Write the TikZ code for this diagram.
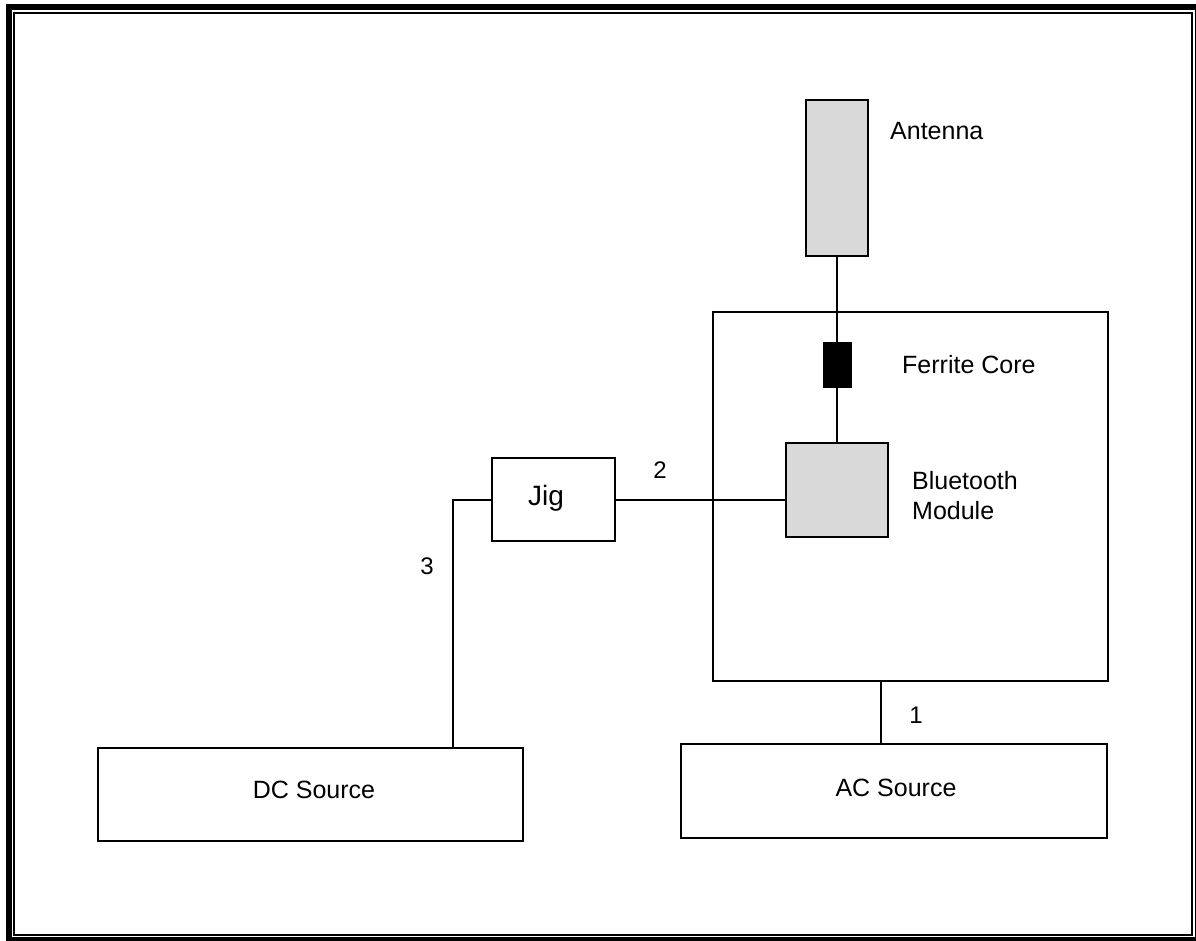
\documentclass[tikz,border=0pt]{standalone}
\usepackage{fontspec}
\setmainfont{Liberation Sans}
\definecolor{boxgray}{HTML}{D9D9D9}
\begin{document}
\begin{tikzpicture}[x=1pt,y=-1pt,
  box/.style={draw=black,line width=2pt,rectangle,inner sep=0pt},
  wire/.style={draw=black,line width=2pt},
  lbl/.style={inner sep=0pt,font=\fontsize{25}{28}\selectfont},
  num/.style={inner sep=0pt,font=\fontsize{24}{28}\selectfont}]
\useasboundingbox (0,0) rectangle (1196,940);
\begin{scope}
  \clip (0,0) rectangle (1196,940);
  \draw[line width=6pt] (9,7) rectangle (1198,940);
  \draw[line width=2pt] (14,13) rectangle (1192,935);
\end{scope}
% device box
\node[box,minimum width=395pt,minimum height=369pt] (dev) at (910.5,496.5) {};
% antenna
\node[box,fill=boxgray,minimum width=62pt,minimum height=156pt] (ant) at (837,178) {};
% ferrite core
\node[box,fill=black,minimum width=27pt,minimum height=44pt] (fer) at (837,365) {};
% bluetooth module
\node[box,fill=boxgray,minimum width=102pt,minimum height=94pt] (bt) at (837,490) {};
% jig
\node[box,minimum width=123pt,minimum height=83pt] (jig) at (553.5,499.5) {};
% sources
\node[box,minimum width=425pt,minimum height=93pt] (dc) at (310.5,794.5) {};
\node[box,minimum width=426pt,minimum height=94pt] (ac) at (894,791) {};
% helper coordinates
\coordinate (dcin) at (453,748);
\coordinate (acx) at (881,0);
% connectors
\draw[wire] (ant.south) -- (fer.north);
\draw[wire] (fer.south) -- (bt.north);
\draw[wire] (jig.east) -- (jig.east -| bt.west);
\draw[wire] (jig.west) -| (dcin);
\draw[wire] (dev.south -| acx) -- (ac.north -| acx);
% labels
\node[lbl,anchor=base west] (tant) at (890,139) {Antenna};
\node[lbl,anchor=base west] (tfer) at (902,373) {Ferrite Core};
\node[lbl,anchor=base west] (tbt1) at (912,489) {Bluetooth};
\node[lbl,anchor=base west] (tbt2) at (912,519) {Module};
\node[inner sep=0pt,font=\fontsize{28}{32}\selectfont,anchor=base] (tjig) at (546,505) {Jig};
\node[lbl,anchor=base] (tdc) at (314,798) {DC Source};
\node[lbl,anchor=base] (tac) at (896,796) {AC Source};
\node[num,anchor=base] (n1) at (916,723) {1};
\node[num,anchor=base] (n2) at (660,478) {2};
\node[num,anchor=base] (n3) at (427,574) {3};
\end{tikzpicture}
\end{document}
